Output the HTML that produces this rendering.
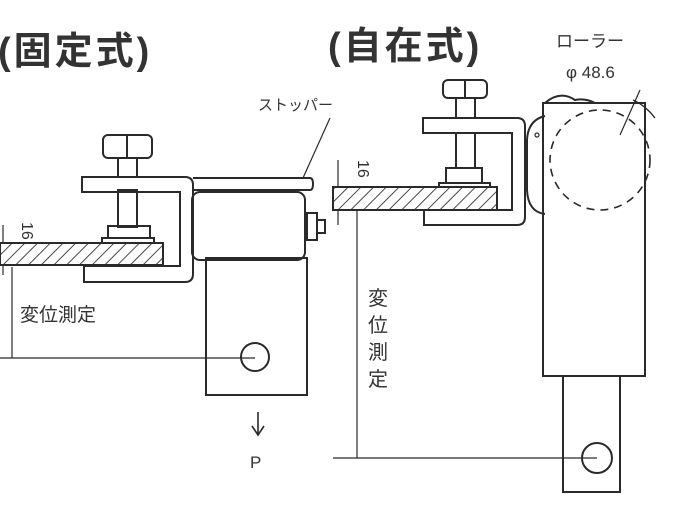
<!DOCTYPE html>
<html><head><meta charset="utf-8"><style>
html,body{margin:0;padding:0;background:#fff;}
svg{display:block;}
text{font-family:"Liberation Sans","Noto Sans CJK JP",sans-serif;fill:#333;}
</style></head><body>
<svg width="674" height="512" viewBox="0 0 674 512" xmlns="http://www.w3.org/2000/svg">
<defs>
<pattern id="h" width="9" height="9" patternUnits="userSpaceOnUse" patternTransform="rotate(45)">
<line x1="0" y1="0" x2="0" y2="9" stroke="#333" stroke-width="1.8"/>
</pattern>
</defs>
<g fill="none" stroke="#2a2a2a" stroke-width="2">
<!-- LEFT -->
<rect x="0" y="243" width="163" height="22" fill="url(#h)"/>
<path d="M82 177 H185 Q193 177 193 185 V274 Q193 282 185 282 H84 V266 H180 V192 H82 Z" fill="#fff"/>
<rect x="103" y="135" width="49" height="23" rx="5"/>
<line x1="127" y1="135" x2="127" y2="158"/>
<rect x="118" y="158" width="19" height="19"/>
<rect x="118" y="190" width="19" height="37"/>
<rect x="108" y="226" width="42" height="12"/>
<rect x="102" y="238" width="52" height="5"/>
<path d="M193 178 H310 Q313 178 313 184 Q313 190 310 190 H193"/>
<rect x="192" y="192" width="113" height="68" rx="8"/>
<rect x="206" y="258" width="101" height="137"/>
<rect x="307" y="213" width="10" height="27"/>
<rect x="317" y="220" width="8" height="13"/>
<circle cx="255" cy="357" r="14"/>
<line x1="12" y1="267" x2="12" y2="358" stroke-width="1.2"/>
<line x1="0" y1="358" x2="255" y2="358" stroke-width="1.2"/>
<line x1="3" y1="225" x2="3" y2="243" stroke-width="1.2"/>
<line x1="3" y1="265" x2="3" y2="275" stroke-width="1.2"/>
<line x1="330" y1="118" x2="303" y2="178" stroke-width="1.2"/>
<line x1="258" y1="412" x2="258" y2="434" stroke-width="1.6"/>
<path d="M252 426 L258 435 L264 426" stroke-width="1.6"/>
<!-- RIGHT -->
<rect x="333" y="187" width="164" height="23" fill="url(#h)"/>
<path d="M423 118 H517 Q525 118 525 126 V217 Q525 225 517 225 H424 V210 H512 V133 H423 Z" fill="#fff"/>
<rect x="443" y="80" width="44" height="18" rx="5"/>
<line x1="465" y1="80" x2="465" y2="98"/>
<rect x="456" y="98" width="19" height="20"/>
<rect x="456" y="133" width="19" height="35"/>
<rect x="446" y="168" width="36" height="15"/>
<rect x="439" y="183" width="51" height="4"/>
<path d="M545 116 Q528 120 527 140 V190 Q528 212 545 214"/>
<circle cx="537" cy="135" r="2" stroke-width="1.2"/>
<rect x="543" y="103" width="102" height="273"/>
<path d="M545 103 Q560 90 575 100 Q585 98 595 103"/>
<path d="M633 100 Q645 105 655 118" stroke-width="1.4"/>
<circle cx="600" cy="160" r="50" stroke-dasharray="8 6" stroke-width="1.6"/>
<line x1="620" y1="135" x2="640" y2="90" stroke-width="1.2"/>
<rect x="563" y="376" width="57" height="116"/>
<circle cx="597" cy="458" r="15"/>
<line x1="357" y1="210" x2="357" y2="458" stroke-width="1.2"/>
<line x1="333" y1="458" x2="597" y2="458" stroke-width="1.2"/>
<line x1="338" y1="160" x2="338" y2="187" stroke-width="1.2"/>
<line x1="338" y1="210" x2="338" y2="225" stroke-width="1.2"/>
</g>
<text x="-2" y="64" font-size="38" font-weight="bold" letter-spacing="3">(固定式)</text>
<text x="328" y="59" font-size="38" font-weight="bold" letter-spacing="3">(自在式)</text>
<text x="258" y="110" font-size="15">ストッパー</text>
<text x="556" y="47" font-size="17">ローラー</text>
<text x="566" y="78" font-size="17">φ 48.6</text>
<text x="20" y="321" font-size="19">変位測定</text>
<text x="250" y="468" font-size="17">P</text>
<text transform="translate(22,222) rotate(90)" font-size="16">16</text>
<text transform="translate(358,160) rotate(90)" font-size="16">16</text>
<g font-size="20">
<text x="368" y="305">変</text>
<text x="368" y="332">位</text>
<text x="368" y="359">測</text>
<text x="368" y="386">定</text>
</g>
</svg>
</body></html>
